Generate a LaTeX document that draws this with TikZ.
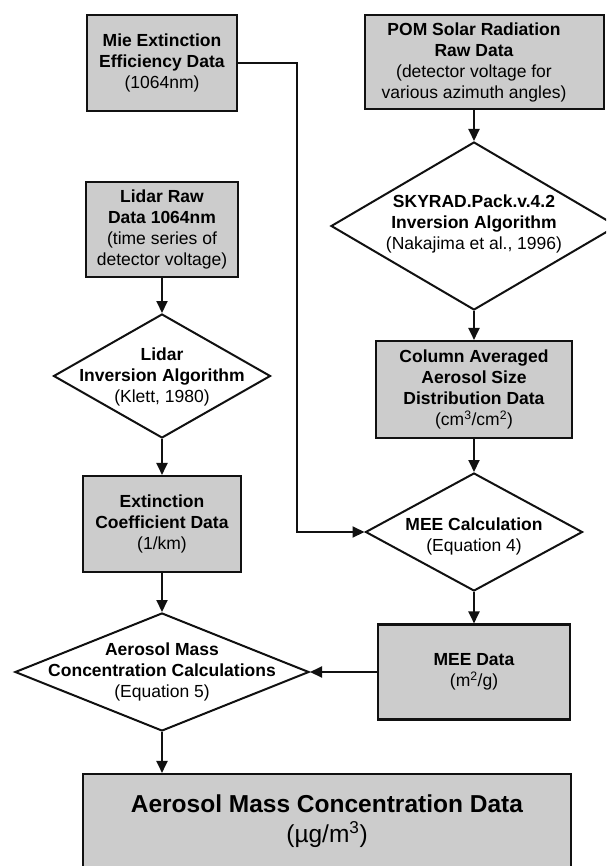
\documentclass[tikz,border=0pt]{standalone}
\usepackage{fontspec}
\setmainfont{Liberation Sans}
\usetikzlibrary{shapes.geometric,arrows.meta}
\definecolor{boxgray}{RGB}{204,204,204}
\definecolor{edgeblack}{RGB}{17,17,17}
\tikzset{
  databox/.style={draw=edgeblack, fill=boxgray, line width=2.1pt, rectangle, inner sep=0pt,
    align=center, font=\fontsize{17.5}{21}\selectfont},
  decision/.style={draw=edgeblack, fill=white, line width=2pt, diamond, inner sep=0pt},
  lbl/.style={align=center, inner sep=0pt, font=\fontsize{17.5}{21}\selectfont},
  flow/.style={line width=2pt, draw=edgeblack, -{Triangle[length=12pt,width=11pt]}},
}
\begin{document}
\begin{tikzpicture}[x=1pt,y=-1pt]
\useasboundingbox (0,0) rectangle (606,866);
\clip (0,0) rectangle (606,866);

% left column
\node[databox, minimum width=150pt, minimum height=96pt] (mie) at (162,63)
  {\textbf{Mie Extinction}\\\textbf{Efficiency Data}\\(1064nm)};
\node[databox, minimum width=152pt, minimum height=95pt] (lraw) at (162,229.5)
  {\textbf{Lidar Raw}\\\textbf{Data 1064nm}\\(time series of\\detector voltage)};
\node[decision, minimum width=217pt, minimum height=124pt] (lidinv) at (162,376) {};
\node[lbl] (lidinvtext) at (162,377)
  {\textbf{Lidar}\\\textbf{Inversion Algorithm}\\(Klett, 1980)};
\node[databox, minimum width=158pt, minimum height=96pt] (ext) at (162,524)
  {\textbf{Extinction}\\\textbf{Coefficient Data}\\(1/km)};
\node[decision, minimum width=294pt, minimum height=118pt] (agg) at (162,672) {};
\node[lbl] (aggtext) at (162,672)
  {\textbf{Aerosol Mass}\\\textbf{Concentration Calculations}\\(Equation 5)};

% right column
\node[databox, minimum width=239pt, minimum height=94pt] (pom) at (484.5,62) {};
\node[lbl] (pomtext) at (474,62.5)
  {\textbf{POM Solar Radiation}\\\textbf{Raw Data}\\(detector voltage for\\various azimuth angles)};
\node[decision, minimum width=286pt, minimum height=168pt] (sky) at (474,226) {};
\node[lbl] (skytext) at (474,224)
  {\textbf{SKYRAD.Pack.v.4.2}\\\textbf{Inversion Algorithm}\\(Nakajima et al., 1996)};
\node[databox, minimum width=196pt, minimum height=97pt] (col) at (474,389.5)
  {\textbf{Column Averaged}\\\textbf{Aerosol Size}\\\textbf{Distribution Data}\\(cm\textsuperscript{3}/cm\textsuperscript{2})};
\node[decision, minimum width=217pt, minimum height=118pt] (meec) at (474,532) {};
\node[lbl] (meectext) at (474,536)
  {\textbf{MEE Calculation}\\(Equation 4)};
\node[databox, minimum width=192pt, minimum height=95pt] (meed) at (474,672)
  {\textbf{MEE Data}\\(m\textsuperscript{2}/g)};

% final
\node[databox, minimum width=488pt, minimum height=130pt] (final) at (327,839) {};
\node[lbl, font=\fontsize{24.5}{30}\selectfont] (finaltext) at (327,821)
  {\textbf{Aerosol Mass Concentration Data}\\(µg/m\textsuperscript{3})};

\coordinate (bend) at (297,63);

% connectors
\draw[flow] (lraw.south) -- (lidinv.north);
\draw[flow] (lidinv.south) -- (ext.north);
\draw[flow] (ext.south) -- (agg.north);
\draw[flow] (agg.south) -- (agg.south |- final.north);
\draw[flow] (pom.south -| sky.north) -- (sky.north);
\draw[flow] (sky.south) -- (col.north);
\draw[flow] (col.south) -- (meec.north);
\draw[flow] (meec.south) -- (meed.north);
\draw[flow] (meed.west) -- (agg.east);
\draw[flow] (mie.east) -- (bend) |- (meec.west);
\end{tikzpicture}
\end{document}
